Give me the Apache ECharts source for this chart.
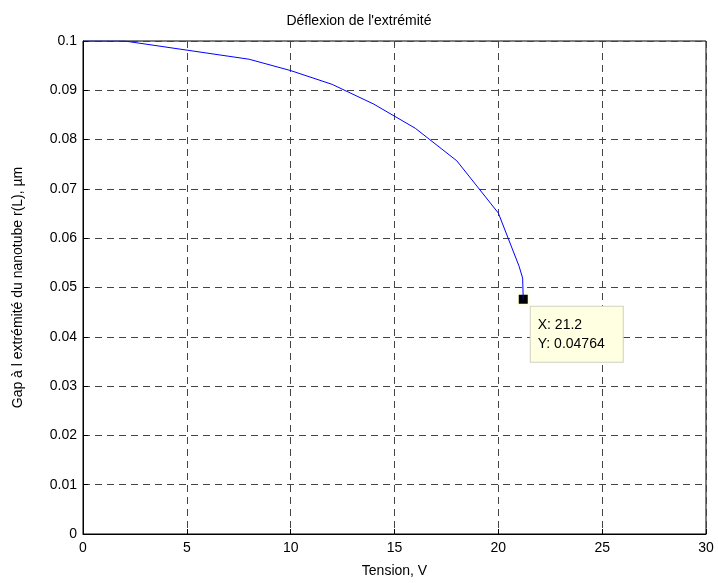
<!DOCTYPE html>
<html><head><meta charset="utf-8">
<script src="https://cdn.jsdelivr.net/npm/echarts@6/dist/echarts.min.js"></script>
<style>html,body{margin:0;padding:0;background:#fff}#c{width:718px;height:583px}</style>
</head><body><div id="c"></div>
<script>
const tensionV = [0, 2, 8, 10, 12, 14, 16, 18, 20, 21, 21.17, 21.2];
const gapUm = [0.1, 0.1, 0.0963, 0.094, 0.0912, 0.0872, 0.0823, 0.0757, 0.0651, 0.0543, 0.0519, 0.04764];
const tipPoint = [21.2, 0.04764];
const tipText = ['X: 21.2', 'Y: 0.04764'];
const xTicks = [0, 5, 10, 15, 20, 25, 30];
const yTicks = [0, 0.01, 0.02, 0.03, 0.04, 0.05, 0.06, 0.07, 0.08, 0.09, 0.1];

const font = 'Liberation Sans, Arial, sans-serif';
const chart = echarts.init(document.getElementById('c'), null, {renderer: 'canvas'});
const gridLine = {show: true, lineStyle: {color: '#444', type: [7, 5], width: 1}};
chart.setOption({
  animation: false,
  backgroundColor: '#fff',
  title: {text: "Déflexion de l'extrémité", left: 'center', top: 9,
    textStyle: {fontFamily: font, fontSize: 14, fontWeight: 'normal', color: '#000'}},
  grid: {left: 83, right: 12, top: 41, bottom: 49, show: true, borderColor: '#000', borderWidth: 1, backgroundColor: 'transparent'},
  xAxis: {type: 'value', min: xTicks[0], max: xTicks[xTicks.length-1], interval: 5,
    name: 'Tension, V', nameLocation: 'middle', nameGap: 30,
    nameTextStyle: {fontFamily: font, fontSize: 14, color: '#000'},
    axisLine: {show: true, lineStyle: {color: '#000'}},
    axisTick: {show: true, inside: true, length: 5, lineStyle: {color: '#000'}},
    axisLabel: {fontFamily: font, fontSize: 14, color: '#000', margin: 7},
    splitLine: gridLine},
  yAxis: {type: 'value', min: yTicks[0], max: yTicks[yTicks.length-1], interval: 0.01,
    name: 'Gap à l extrémité du nanotube r(L), µm', nameLocation: 'middle', nameGap: 58,
    nameTextStyle: {fontFamily: font, fontSize: 14, color: '#000'},
    axisLine: {show: true, lineStyle: {color: '#000'}},
    axisTick: {show: true, inside: true, length: 5, lineStyle: {color: '#000'}},
    axisLabel: {fontFamily: font, fontSize: 14, color: '#000', margin: 6,
      formatter: v => String(Math.round(v * 100) / 100)},
    splitLine: gridLine},
  series: [
    {type: 'line', data: tensionV.map((x, i) => [x, gapUm[i]]), showSymbol: false,
      lineStyle: {color: '#0000ff', width: 1}, silent: true},
    {type: 'scatter', data: [tipPoint], symbol: 'rect', symbolSize: 11,
      itemStyle: {color: '#000', borderColor: '#ffffe1', borderWidth: 2, opacity: 1},
      label: {show: true, position: [14, 14], align: 'left', verticalAlign: 'top',
        formatter: tipText.join('\n'), fontFamily: font, fontSize: 14, color: '#000',
        lineHeight: 19, backgroundColor: '#ffffe1', borderColor: '#d0d0c0', borderWidth: 1,
        padding: [9, 10, 8, 7], width: 75}}
  ]
});
</script></body></html>
